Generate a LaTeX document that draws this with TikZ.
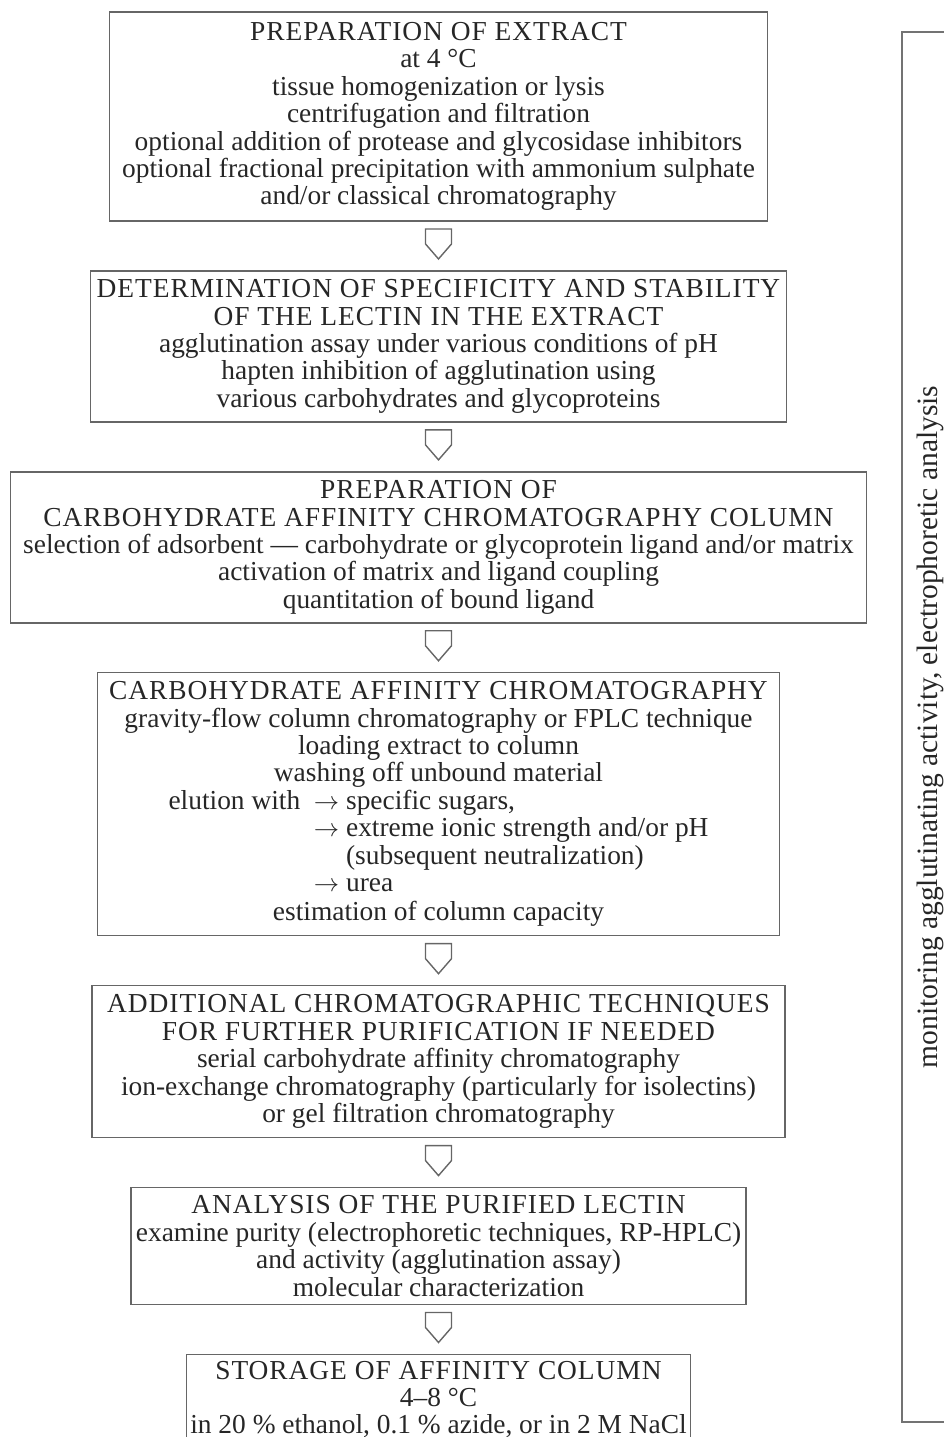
\documentclass[tikz,border=0pt]{standalone}
\usepackage{fontspec}
\setmainfont{Liberation Serif}
\usepackage{tikz}
\usetikzlibrary{positioning, calc}
\tikzstyle{stepbox} = [rectangle, draw=black!60, line width=0.8pt, text=black!85, align=center, inner sep=2pt, font=\fontsize{15.6}{15.6}\selectfont]
\tikzstyle{sidebox} = [rectangle, draw=black!55, line width=0.9pt]
\tikzstyle{sidetext} = [text=black!85, rotate=90, font=\fontsize{16.8}{16}\selectfont]
\tikzstyle{flow} = [draw=black!60, line width=0.8pt, line join=miter]
\newcommand{\stepheading}[1]{{\addfontfeatures{LetterSpace=3.5}#1}}
\newcommand{\flowarrow}[2]{\draw [flow] ($(#1.south)!0.5!(#2.north)$) ++(-0.26,0.34) -- ++(0.52,0) -- ++(0,-0.3) -- ++(-0.26,-0.3) -- ++(-0.26,0.3) -- cycle;}

\begin{document}
\begin{tikzpicture}[node distance = 0.97 cm]
\path[use as bounding box, clip] (0,0) rectangle (18.88,-28.74);
% steps of the purification
\node (extract) [stepbox, minimum width=13.16cm, minimum height=4.18cm] at (8.77,-2.33) {\stepheading{PREPARATION OF EXTRACT}\\ at 4 °C\\ tissue homogenization or lysis\\ centrifugation and filtration\\ optional addition of protease and glycosidase inhibitors\\ optional fractional precipitation with ammonium sulphate\\ and/or classical chromatography};
\node (specificity) [stepbox, minimum width=13.92cm, minimum height=3.02cm, below = of extract] {\stepheading{DETERMINATION OF SPECIFICITY AND STABILITY}\\ \stepheading{OF THE LECTIN IN THE EXTRACT}\\ agglutination assay under various conditions of pH\\ hapten inhibition of agglutination using\\ various carbohydrates and glycoproteins};
\node (column) [stepbox, minimum width=17.12cm, minimum height=3.02cm, below = of specificity] {\stepheading{PREPARATION OF}\\ \stepheading{CARBOHYDRATE AFFINITY CHROMATOGRAPHY COLUMN}\\ selection of adsorbent — carbohydrate or glycoprotein ligand and/or matrix\\ activation of matrix and ligand coupling\\ quantitation of bound ligand};
\node (affinity) [stepbox, minimum width=13.64cm, minimum height=5.26cm, below = of column] {\stepheading{CARBOHYDRATE AFFINITY CHROMATOGRAPHY}\\ gravity-flow column chromatography or FPLC technique\\ loading extract to column\\ washing off unbound material\\ \begin{tabular}[t]{@{}l@{\hspace{0.5em}}l@{}}elution with & $\rightarrow$ specific sugars,\\ & $\rightarrow$ extreme ionic strength and/or pH\\ & \phantom{$\rightarrow$} (subsequent neutralization)\\ & $\rightarrow$ urea\end{tabular}\\ estimation of column capacity};
\node (further) [stepbox, minimum width=13.86cm, minimum height=3.04cm, below = of affinity] {\stepheading{ADDITIONAL CHROMATOGRAPHIC TECHNIQUES}\\ \stepheading{FOR FURTHER PURIFICATION IF NEEDED}\\ serial carbohydrate affinity chromatography\\ ion-exchange chromatography (particularly for isolectins)\\ or gel filtration chromatography};
\node (analysis) [stepbox, minimum width=12.3cm, minimum height=2.34cm, below = of further] {\stepheading{ANALYSIS OF THE PURIFIED LECTIN}\\ examine purity (electrophoretic techniques, RP-HPLC)\\ and activity (agglutination assay)\\ molecular characterization};
\node (storage) [stepbox, minimum width=9.82cm, minimum height=1.8cm, below = of analysis] {\stepheading{STORAGE OF AFFINITY COLUMN}\\ 4–8 °C\\ in 20 \% ethanol, 0.1 \% azide, or in 2 M NaCl};
% arrows between the steps
\flowarrow{extract}{specificity}
\flowarrow{specificity}{column}
\flowarrow{column}{affinity}
\flowarrow{affinity}{further}
\flowarrow{further}{analysis}
\flowarrow{analysis}{storage}
% monitoring along all steps
\node (monitor) [sidebox, minimum width=1.6cm, minimum height=27.8cm] at (18.84,-14.54) {};
\node (monitortext) [sidetext] at (18.6,-14.54) {monitoring agglutinating activity, electrophoretic analysis};
\end{tikzpicture}
\end{document}
